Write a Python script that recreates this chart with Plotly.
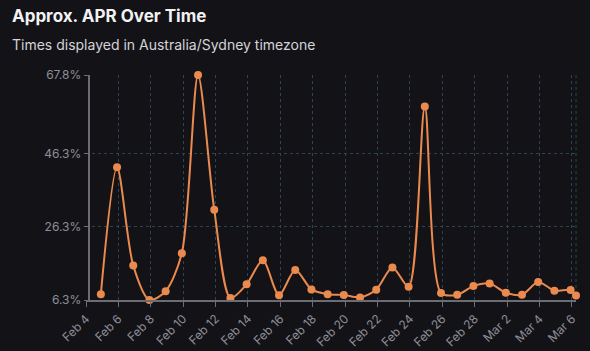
import plotly.graph_objects as go

# ---- data ----
dates = [
    "2025-02-04 22:00", "2025-02-05 22:00", "2025-02-06 22:00", "2025-02-07 22:00",
    "2025-02-08 22:00", "2025-02-09 22:00", "2025-02-10 22:00", "2025-02-11 22:00",
    "2025-02-12 22:00", "2025-02-13 22:00", "2025-02-14 22:00", "2025-02-15 22:00",
    "2025-02-16 22:00", "2025-02-17 22:00", "2025-02-18 22:00", "2025-02-19 22:00",
    "2025-02-20 22:00", "2025-02-21 22:00", "2025-02-22 22:00", "2025-02-23 22:00",
    "2025-02-24 22:00", "2025-02-25 22:00", "2025-02-26 22:00", "2025-02-27 22:00",
    "2025-02-28 22:00", "2025-03-01 22:00", "2025-03-02 22:00", "2025-03-03 22:00",
    "2025-03-04 22:00", "2025-03-05 22:00", "2025-03-06 06:00",
]
apr = [
    7.9, 42.6, 15.7, 6.3, 8.7, 19.1, 67.8, 31.0, 6.85, 10.6,
    17.15, 7.6, 14.5, 9.2, 7.9, 7.7, 7.0, 9.1, 15.2, 9.9,
    59.2, 8.2, 7.75, 10.1, 10.8, 8.3, 7.75, 11.2, 8.85, 9.0, 7.5,
]
y_ticks = [6.3, 26.3, 46.3, 67.8]
y_tick_labels = ["6.3%", "26.3%", "46.3%", "67.8%"]
x_range = ["2025-02-04 00:00", "2025-03-06 06:00"]
title = "Approx. APR Over Time"
subtitle = "Times displayed in Australia/Sydney timezone"

BG = "#131317"
ORANGE = "#EA8A4E"
GRID = "#2d4454"
AXIS = "#6c6c75"
TICKTXT = "#8e8e98"
FONT = "Inter"

fig = go.Figure()
fig.add_trace(go.Scatter(
    x=dates, y=apr, mode="lines+markers",
    line=dict(color=ORANGE, width=2, shape="spline", smoothing=0.8),
    marker=dict(color=ORANGE, size=8),
    cliponaxis=False, hoverinfo="skip",
))

fig.update_layout(
    width=590, height=351,
    margin=dict(l=86, r=14, t=75, b=51),
    paper_bgcolor=BG, plot_bgcolor=BG,
    showlegend=False,
    font=dict(family=FONT, color=TICKTXT, size=12),
    xaxis=dict(
        type="date", range=x_range, automargin=False,
        dtick=2 * 86400000, tick0="2025-02-04",
        tickformat="%b %-d", tickangle=-45,
        showgrid=True, gridcolor=GRID, griddash="3px,3px", gridwidth=1,
        showline=True, linecolor=AXIS, linewidth=2,
        ticks="outside", ticklen=5, tickcolor=AXIS, tickwidth=1,
        tickfont=dict(family=FONT, size=12, color=TICKTXT),
        zeroline=False,
    ),
    yaxis=dict(
        range=[6.3, 67.8], tickvals=y_ticks, ticktext=y_tick_labels,
        anchor="free", position=0.0055, automargin=False,
        showgrid=True, gridcolor=GRID, griddash="3px,3px", gridwidth=1,
        showline=True, linecolor=AXIS, linewidth=2,
        ticks="outside", ticklen=4, tickcolor=AXIS, tickwidth=1,
        tickfont=dict(family=FONT, size=12, color=TICKTXT),
        zeroline=False,
    ),
    shapes=[dict(
        type="line", xref="x domain", yref="y domain",
        x0=1, x1=1, y0=0, y1=1,
        line=dict(color=GRID, width=1, dash="3px,3px"), layer="below",
    )],
    annotations=[
        dict(text=f"<b>{title}</b>", xref="paper", yref="paper",
             x=(10 - 86) / 490, y=(300 - 16) / 225, xanchor="left", yanchor="middle",
             showarrow=False, font=dict(family=FONT, size=17, color="#f2f2f4")),
        dict(text=subtitle, xref="paper", yref="paper",
             x=(10 - 86) / 490, y=(300 - 44) / 225, xanchor="left", yanchor="middle",
             showarrow=False, font=dict(family=FONT, size=14, color="#d4d4d8")),
    ],
)

fig.write_html("out.html")
